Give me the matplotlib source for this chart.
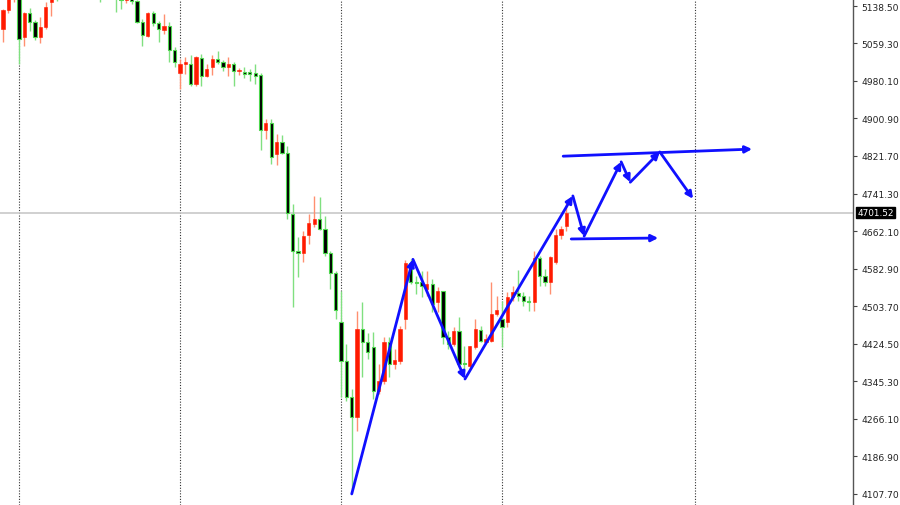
import matplotlib
matplotlib.use("Agg")
import matplotlib.pyplot as plt
import numpy as np

# OHLC values (index = bar number)
opens = [5090, 5130, 5164, 5185, 5073, 5124, 5105, 5073, 5094, 5147,
         5175, 5158, 5180, 5170, 5185, 5172, 5182, 5170, 5165, 5158,
         5168, 5175, 5165, 5151, 5160, 5149, 5105, 5075, 5124, 5103,
         5088, 5096, 5046, 4997, 5016, 5016, 4974, 5029, 4991, 5010,
         5026, 5020, 5010, 5016, 5001, 4999, 4999, 4997, 4993, 4876,
         4891, 4826, 4851, 4828, 4699, 4621, 4616, 4654, 4678, 4688,
         4667, 4616, 4574, 4470, 4388, 4312, 4270, 4456, 4428, 4418,
         4325, 4346, 4428, 4382, 4388, 4477, 4595, 4555, 4555, 4540,
         4551, 4513, 4536, 4438, 4424, 4451, 4384, 4377, 4418, 4454,
         4428, 4430, 4487, 4477, 4470, 4523, 4532, 4525, 4515, 4513,
         4606, 4568, 4555, 4597, 4654, 4673]
highs = [5132, 5170, 5185, 5190, 5126, 5134, 5109, 5115, 5147, 5170,
         5180, 5190, 5188, 5192, 5190, 5195, 5188, 5178, 5170, 5175,
         5182, 5180, 5170, 5165, 5165, 5151, 5111, 5126, 5128, 5107,
         5122, 5105, 5052, 5026, 5031, 5035, 5033, 5037, 5016, 5035,
         5043, 5024, 5031, 5020, 5007, 5010, 5005, 5016, 4997, 4900,
         4900, 4868, 4866, 4843, 4720, 4650, 4663, 4699, 4737, 4735,
         4695, 4621, 4578, 4536, 4424, 4329, 4494, 4513, 4448, 4449,
         4382, 4439, 4439, 4413, 4462, 4602, 4604, 4568, 4578, 4578,
         4561, 4544, 4536, 4451, 4460, 4481, 4420, 4420, 4477, 4462,
         4445, 4555, 4525, 4515, 4534, 4547, 4580, 4534, 4525, 4621,
         4610, 4582, 4610, 4667, 4673, 4724]
lows = [5062, 5124, 5147, 5016, 5054, 5086, 5067, 5060, 5090, 5117,
        5150, 5155, 5162, 5165, 5166, 5168, 5160, 5156, 5147, 5155,
        5160, 5126, 5132, 5145, 5143, 5103, 5054, 5073, 5096, 5062,
        5079, 5020, 5010, 4963, 4995, 4969, 4969, 4969, 4988, 4993,
        5016, 5001, 4991, 4969, 4993, 4986, 4980, 4974, 4834, 4857,
        4804, 4802, 4826, 4688, 4502, 4566, 4597, 4635, 4671, 4665,
        4610, 4540, 4477, 4312, 4303, 4118, 4240, 4354, 4392, 4308,
        4318, 4339, 4354, 4371, 4382, 4456, 4551, 4530, 4523, 4525,
        4492, 4492, 4424, 4413, 4420, 4377, 4367, 4373, 4413, 4428,
        4428, 4428, 4483, 4418, 4460, 4515, 4515, 4504, 4494, 4494,
        4546, 4546, 4530, 4593, 4646, 4663]
closes = [5130, 5164, 5180, 5069, 5124, 5105, 5073, 5094, 5136, 5165,
          5158, 5180, 5170, 5185, 5172, 5182, 5170, 5162, 5158, 5168,
          5175, 5158, 5151, 5160, 5149, 5105, 5077, 5124, 5103, 5090,
          5096, 5046, 5020, 5016, 5020, 4974, 5031, 4991, 5005, 5026,
          5020, 5010, 5016, 5001, 5003, 4995, 4995, 4991, 4876, 4891,
          4819, 4851, 4828, 4701, 4621, 4616, 4652, 4680, 4688, 4667,
          4616, 4574, 4496, 4388, 4312, 4270, 4456, 4428, 4407, 4325,
          4346, 4428, 4382, 4390, 4456, 4595, 4555, 4553, 4547, 4551,
          4508, 4536, 4438, 4424, 4451, 4382, 4382, 4420, 4456, 4430,
          4435, 4487, 4496, 4460, 4523, 4534, 4525, 4515, 4513, 4606,
          4568, 4555, 4608, 4654, 4667, 4701.52]

last_price = 4701.52
price_ticks = [5138.50, 5059.30, 4980.10, 4900.90, 4821.70, 4741.30, 4662.10,
               4582.90, 4503.70, 4424.50, 4345.30, 4266.10, 4186.90, 4107.70]
separators = [3, 33, 63, 93, 129]

# hand-drawn blue arrows: (bar, price) points
zigzag = [(65.0, 4107), (76.4, 4603), (86.1, 4350), (106.2, 4737),
          (108.3, 4652), (115.2, 4809), (116.9, 4766), (122.4, 4830),
          (128.6, 4731)]
upper_line = [(104.4, 4821), (139.6, 4836)]
lower_line = [(105.9, 4646), (122.1, 4648)]

fig = plt.figure(figsize=(9, 5.06), dpi=100)
ax = fig.add_axes([0, 0, 853 / 900, 1])

o = np.array(opens, dtype=float)
h = np.array(highs, dtype=float)
l = np.array(lows, dtype=float)
c = np.array(closes, dtype=float)
x = np.arange(len(o))
up = c >= o

# wicks
ax.vlines(x[up], l[up], h[up], color="#ff8f70", lw=1.0, zorder=2)
ax.vlines(x[~up], l[~up], h[~up], color="#80e080", lw=1.0, zorder=2)

# bodies
body_h = np.maximum(np.abs(c - o), 1.5)
body_b = np.minimum(o, c)
ax.bar(x[up], body_h[up], bottom=body_b[up], width=0.6, color="#ff1a00",
       edgecolor="#ff1a00", lw=0.4, zorder=3)
ax.bar(x[~up], body_h[~up], bottom=body_b[~up], width=0.6, color="black",
       edgecolor="#4fd84f", lw=0.8, zorder=3)

# period separators and last price line
for s in separators:
    ax.axvline(s, color="#333333", lw=0.8, ls=(0, (1, 1.5)), zorder=1)
ax.axhline(last_price, color="#c8c8c8", lw=1.2, zorder=1)


def arrow(p0, p1):
    ax.annotate("", xy=p1, xytext=p0,
                arrowprops=dict(arrowstyle="-|>", color="#1010ff", lw=2.0,
                                mutation_scale=10, shrinkA=0, shrinkB=0),
                zorder=5)


for a, b in zip(zigzag[:-1], zigzag[1:]):
    arrow(a, b)
arrow(upper_line[0], upper_line[1])
arrow(lower_line[0], lower_line[1])

ax.set_xlim(-0.54, 158.4)
ax.set_ylim(4083.6, 5153.3)

ax.yaxis.tick_right()
ax.set_yticks(price_ticks)
ax.set_yticklabels([f"{t:.2f}" for t in price_ticks], fontsize=6.6, color="#222222")
ax.tick_params(axis="y", length=3, width=0.8, color="#444444", pad=3)
ax.set_xticks([])
for side in ["top", "left", "bottom"]:
    ax.spines[side].set_visible(False)
ax.spines["right"].set_color("#555555")
ax.spines["right"].set_linewidth(1.0)

ax.annotate(f"{last_price:.2f}", xy=(1.0, last_price),
            xycoords=("axes fraction", "data"), xytext=(3, 0),
            textcoords="offset points", ha="left", va="center",
            fontsize=6.4, color="white",
            bbox=dict(boxstyle="square,pad=0.12", fc="black", ec="black"),
            annotation_clip=False)

fig.savefig("out.png", dpi=100)
